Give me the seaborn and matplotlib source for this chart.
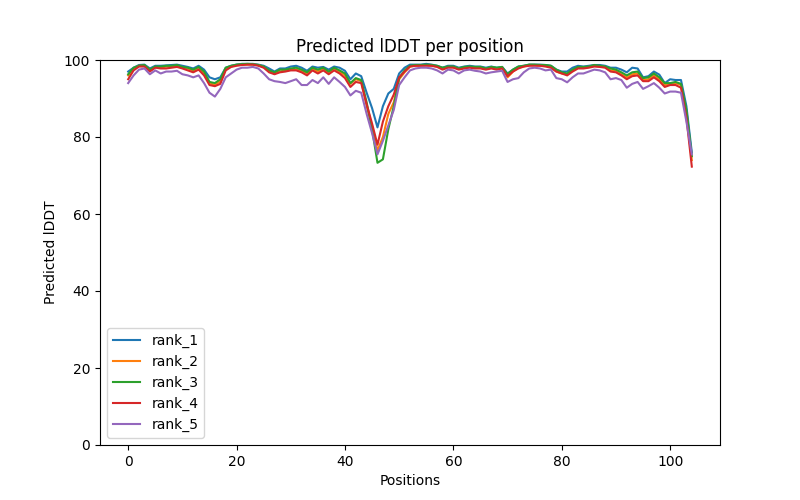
# Predicted lDDT per position (5 ranked models)
import numpy as np
import pandas as pd
import matplotlib
matplotlib.use("Agg")
import matplotlib.pyplot as plt
import seaborn as sns

# Data
rank_1 = [97, 98, 98.7, 98.8, 97.8, 98.5, 98.5, 98.6, 98.7, 98.8,
          98.5, 98.2, 97.8, 98.5, 97.5, 95.5, 95, 95.5, 98, 98.5,
          98.8, 99, 99, 99, 98.8, 98.5, 97.8, 97, 97.8, 97.8,
          98.3, 98.5, 98, 97.2, 98.3, 98, 98.2, 97.5, 98.3, 98,
          97.2, 95, 96.5, 95.8, 91.5, 87.5, 82.5, 88, 91.3, 92.5,
          96.5, 98, 98.8, 98.8, 98.8, 99, 98.8, 98.5, 98, 98.5,
          98.5, 98, 98.3, 98.5, 98.3, 98.3, 98, 98.3, 98, 98.2,
          96.5, 97.5, 98.3, 98.5, 98.8, 98.8, 98.8, 98.7, 98.5, 97.5,
          97, 97, 98, 98.5, 98.3, 98.5, 98.7, 98.7, 98.5, 98,
          98, 97.5, 96.8, 98, 97.8, 95.5, 95.8, 97, 96.2, 94,
          95, 94.8, 94.8, 88, 76]
rank_2 = [96, 97.8, 98.5, 98.5, 97.3, 98.2, 98, 98.3, 98.3, 98.5,
          98, 97.8, 97.2, 98, 96.5, 94, 93.5, 94.5, 97.8, 98.3,
          98.7, 98.8, 98.8, 98.8, 98.7, 98.2, 97, 96.5, 97, 97.3,
          97.5, 97.5, 97.2, 96.5, 97.8, 97, 97.8, 96.8, 97.8, 97,
          96, 93.8, 95, 94.5, 88, 82.5, 76.5, 80, 86, 89,
          95, 96.8, 98.3, 98.5, 98.5, 98.7, 98.5, 98.3, 97.8, 98.2,
          98.2, 97.7, 98, 98.2, 98, 98, 97.7, 98, 97.8, 98,
          95.5, 97, 98, 98.3, 98.7, 98.7, 98.5, 98.5, 98.2, 97,
          96.5, 96.3, 97.3, 98, 98, 98.2, 98.5, 98.3, 98.2, 97.3,
          97.2, 96.3, 95.5, 96.3, 96.5, 94.8, 95, 96, 95, 93.5,
          93.8, 94, 93.5, 86, 74]
rank_3 = [96.3, 98, 98.5, 98.7, 97.5, 98.3, 98.3, 98.5, 98.5, 98.7,
          98.2, 98, 97.5, 98.2, 97, 94.3, 94, 95, 98, 98.5,
          98.8, 98.9, 99, 98.9, 98.7, 98.3, 97.3, 96.8, 97.5, 97.5,
          97.8, 98, 97.5, 96.8, 98, 97.5, 98, 97, 98, 97.3,
          96.5, 94, 95.3, 94.8, 89, 82, 73.3, 74.2, 82, 88,
          95.3, 97.3, 98.5, 98.7, 98.7, 98.8, 98.7, 98.5, 98, 98.3,
          98.3, 97.8, 98.2, 98.3, 98.2, 98.2, 97.8, 98.2, 98, 98.2,
          96.3, 97.5, 98.3, 98.5, 98.8, 98.8, 98.7, 98.7, 98.5, 97.5,
          96.8, 96.5, 97.5, 98.2, 98.2, 98.3, 98.7, 98.5, 98.3, 97.8,
          97.5, 96.8, 96, 96.8, 97, 95.3, 95.5, 96.5, 95.5, 94,
          94, 94.3, 93.8, 87, 75]
rank_4 = [95, 97.3, 98.3, 98.3, 97, 98, 97.8, 97.8, 98, 98.2,
          97.8, 97.3, 96.8, 97.5, 96, 93.5, 93.2, 93.8, 97.3, 98.2,
          98.5, 98.7, 98.8, 98.8, 98.5, 98, 96.8, 96.3, 96.8, 97,
          97.3, 97.3, 96.8, 96, 97.3, 96.5, 97.3, 96.3, 97.3, 96.5,
          95.3, 93, 94.3, 94, 88.5, 83.5, 78, 84, 88, 91,
          95.5, 97, 98.3, 98.5, 98.5, 98.5, 98.5, 98.2, 97.5, 98,
          98, 97.5, 97.8, 98, 97.8, 97.8, 97.5, 97.8, 97.5, 97.8,
          95.8, 97, 97.8, 98.3, 98.5, 98.5, 98.5, 98.3, 98, 97,
          96.5, 96, 97, 97.8, 97.8, 98, 98.3, 98.2, 98, 97,
          96.8, 96, 95, 95.8, 96, 94.5, 94.5, 95.5, 94.5, 93,
          93.5, 93.5, 92.8, 85, 72.3]
rank_5 = [94, 96, 97.5, 97.8, 96.3, 97.3, 96.5, 97, 97, 97.2,
          96.3, 96, 95.5, 96, 94, 91.5, 90.5, 92.5, 95.5, 96.5,
          97.5, 98, 98, 98.2, 97.8, 96.5, 95, 94.5, 94.3, 94,
          94.5, 95, 93.5, 93.5, 94.8, 94, 95.5, 93.8, 95.5, 94.3,
          93, 90.8, 92, 91.5, 86, 81, 75.5, 79, 83, 87,
          93.5, 95.5, 97.3, 97.8, 98, 98, 97.8, 97.3, 96.5, 97.5,
          97.3, 96.5, 97.3, 97.5, 97.2, 97, 96.5, 96.8, 97, 97.2,
          94.3, 95, 95.3, 96.8, 97.8, 98, 97.8, 97.3, 97.5, 95.3,
          95, 94.2, 95.5, 96.5, 96.5, 97, 97.5, 97.3, 96.8, 95,
          95.3, 94.8, 92.8, 93.8, 94.3, 92.5, 93.2, 94, 92.8, 91.3,
          91.8, 91.8, 91.5, 84, 75.5]

ranks = ["rank_1", "rank_2", "rank_3", "rank_4", "rank_5"]
values = [rank_1, rank_2, rank_3, rank_4, rank_5]

# Long-form table
rows = []
for name, vals in zip(ranks, values):
    for pos, v in enumerate(vals):
        rows.append({"Positions": pos, "pLDDT": v, "model": name})
df = pd.DataFrame(rows)

# Plot
fig, ax = plt.subplots(figsize=(8, 5), dpi=100)
sns.lineplot(data=df, x="Positions", y="pLDDT", hue="model",
             palette="tab10", ax=ax)
ax.set_ylim(0, 100)
ax.set_title("Predicted lDDT per position")
ax.set_xlabel("Positions")
ax.set_ylabel("Predicted lDDT")
ax.legend(loc="lower left")
plt.savefig("out.png")
